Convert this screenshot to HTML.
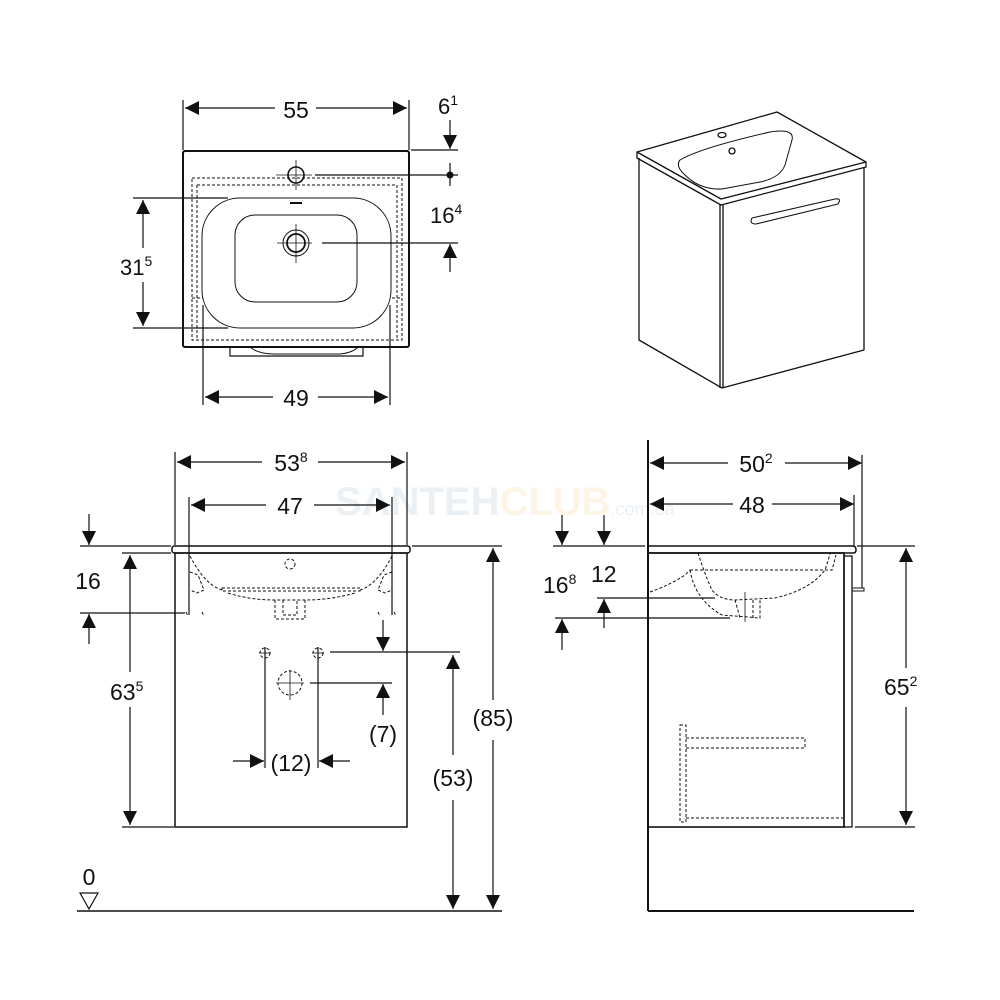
<!DOCTYPE html>
<html><head><meta charset="utf-8"><style>
html,body{margin:0;padding:0;background:#fff;}
svg{display:block}
text{font-family:"Liberation Sans",Arial,sans-serif;fill:#111;}
</style></head><body>
<svg width="1000" height="1000" viewBox="0 0 1000 1000" xmlns="http://www.w3.org/2000/svg">
<defs>
<marker id="a" viewBox="0 0 10 10" refX="10" refY="5" markerWidth="14" markerHeight="14" markerUnits="userSpaceOnUse" orient="auto-start-reverse"><path d="M0,0 L10,5 L0,10 z" fill="#111"/></marker>
</defs>
<text x="335" y="515" font-size="40" style="fill:#eaf0f4" font-weight="bold">SANTEH<tspan style="fill:#fcf5e6">CLUB</tspan><tspan font-size="18" font-weight="normal" style="fill:#eaf0f4">.com.ua</tspan></text>
<g stroke="#111" fill="none" stroke-width="1.2">

<!-- TOP VIEW -->
<rect x="183" y="151" width="226" height="196" rx="2" stroke-width="2"/>
<rect x="192" y="178" width="210" height="162" stroke-dasharray="3,2" stroke-width="1"/>
<line x1="197" y1="185" x2="397" y2="185" stroke-dasharray="3,2" stroke-width="1"/>
<line x1="197" y1="185" x2="197" y2="338" stroke-dasharray="3,2" stroke-width="1"/>
<line x1="397" y1="185" x2="397" y2="338" stroke-dasharray="3,2" stroke-width="1"/>
<line x1="192" y1="298" x2="402" y2="298" stroke-dasharray="3,2" stroke-width="1"/>
<rect x="202" y="198" width="189" height="130" rx="38" fill="#fff" stroke-width="1"/>
<rect x="235" y="215" width="122" height="87" rx="20" stroke-width="1"/>
<circle cx="296" cy="243" r="13" stroke-width="1"/>
<circle cx="296" cy="243" r="9" stroke-width="1.8"/>
<circle cx="296" cy="175" r="8" stroke-width="1.6"/>
<path d="M230,347 L230,356 L363,356 L363,347" stroke-width="1.2"/>
<path d="M250,347 Q258,354 275,354 L340,354 Q352,353 358,347" stroke-width="1"/>
<path d="M290,203 L302,203" stroke-width="2"/>
<line x1="276" y1="175" x2="312" y2="175" stroke-width="0.8"/><line x1="296" y1="160" x2="296" y2="190" stroke-width="0.8"/>
<line x1="277" y1="243" x2="312" y2="243" stroke-width="0.8"/><line x1="296" y1="224" x2="296" y2="263" stroke-width="0.8"/>
<line x1="183" y1="100" x2="183" y2="150"/><line x1="409" y1="100" x2="409" y2="150"/>
<line x1="185" y1="108" x2="275" y2="108" marker-start="url(#a)"/><line x1="316" y1="108" x2="407" y2="108" marker-end="url(#a)"/>
<line x1="411" y1="150" x2="458" y2="150"/>
<line x1="450" y1="120" x2="450" y2="149" marker-end="url(#a)"/>
<line x1="315" y1="175" x2="458" y2="175"/><line x1="450" y1="163" x2="450" y2="186"/>
<line x1="322" y1="243" x2="458" y2="243"/>
<line x1="450" y1="272" x2="450" y2="244" marker-end="url(#a)"/>
<line x1="133" y1="198" x2="228" y2="198"/><line x1="133" y1="328" x2="228" y2="328"/>
<line x1="143" y1="200" x2="143" y2="248" marker-start="url(#a)"/><line x1="143" y1="282" x2="143" y2="326" marker-end="url(#a)"/>
<line x1="203" y1="305" x2="203" y2="405"/><line x1="390" y1="305" x2="390" y2="405"/>
<line x1="205" y1="397" x2="273" y2="397" marker-start="url(#a)"/><line x1="318" y1="397" x2="388" y2="397" marker-end="url(#a)"/>
</g>
<circle cx="450" cy="175" r="3.5" fill="#111"/>
<text x="296" y="118" font-size="23" text-anchor="middle">55</text>
<text x="438" y="114" font-size="22">6<tspan font-size="14" dy="-9">1</tspan></text>
<text x="430" y="223" font-size="22">16<tspan font-size="14" dy="-9">4</tspan></text>
<text x="120" y="275" font-size="22">31<tspan font-size="14" dy="-9">5</tspan></text>
<text x="296" y="406" font-size="23" text-anchor="middle">49</text>

<!-- 3D VIEW -->
<g stroke="#111" fill="none" stroke-width="1.3" stroke-linejoin="round">
<path d="M637,152 L777,112 L866,162 L866,167 L721,205 L637,158 Z"/>
<path d="M637,152 L721,199 L866,162"/>
<path d="M639,158 L639,340 L722,388 L864,350 L864,167"/>
<line x1="720" y1="205" x2="720" y2="388"/><line x1="723" y1="205" x2="723" y2="388"/>
<path d="M680,160 Q700,148 770,132 Q795,128 792,140 L785,165 Q780,178 760,182 L722,189 Q700,190 685,175 Q675,166 680,160 Z" stroke-width="1"/>
<ellipse cx="722" cy="135" rx="4" ry="2.5"/>
<circle cx="732" cy="151" r="3"/>
<path d="M752,218 L835,199 Q842,198 838,204 L756,224 Q749,224 752,218 Z" stroke-width="1.1"/>
</g>

<!-- FRONT VIEW -->
<g stroke="#111" fill="none" stroke-width="1.2">
<rect x="175" y="553" width="232" height="274" stroke-width="1.5"/>
<rect x="172" y="546" width="238" height="7" rx="2.5" stroke-width="1.5"/>
<g stroke-dasharray="3,2" stroke-width="1">
<path d="M190,556 Q205,585 222,590"/><path d="M392,556 Q377,585 360,590"/>
<rect x="222" y="588" width="138" height="3"/>
<path d="M228,593 Q250,600 275,600 L305,600 Q330,600 355,593"/>
<path d="M275,600 L275,619 L305,619 L305,600"/><path d="M283,600 L283,615 L297,615 L297,600"/>
<circle cx="290" cy="564" r="5"/>
<path d="M190,572 L198,575 L204,590 L197,593 L190,590"/><path d="M392,572 L384,575 L378,590 L385,593 L392,590"/>
<path d="M186,612 L188,616 M202,612 L204,616 M378,612 L380,616 M394,612 L396,616"/>
<circle cx="265" cy="653" r="5"/><circle cx="318" cy="653" r="5"/>
<circle cx="290" cy="683" r="12"/>
</g>
<line x1="259" y1="653" x2="271" y2="653" stroke-width="0.8"/><line x1="265" y1="647" x2="265" y2="768"/>
<line x1="312" y1="653" x2="324" y2="653" stroke-width="0.8"/><line x1="318" y1="647" x2="318" y2="768"/>
<line x1="276" y1="683" x2="304" y2="683" stroke-width="0.8"/><line x1="290" y1="670" x2="290" y2="700" stroke-width="0.8"/>
<line x1="175" y1="452" x2="175" y2="545"/><line x1="407" y1="452" x2="407" y2="545"/>
<line x1="177" y1="462" x2="262" y2="462" marker-start="url(#a)"/><line x1="318" y1="462" x2="405" y2="462" marker-end="url(#a)"/>
<line x1="189" y1="497" x2="189" y2="615"/><line x1="392" y1="497" x2="392" y2="615"/>
<line x1="191" y1="505" x2="266" y2="505" marker-start="url(#a)"/><line x1="314" y1="505" x2="390" y2="505" marker-end="url(#a)"/>
<line x1="89" y1="514" x2="89" y2="545" marker-end="url(#a)"/>
<line x1="80" y1="546" x2="171" y2="546"/>
<line x1="80" y1="613" x2="185" y2="613"/>
<line x1="89" y1="644" x2="89" y2="614" marker-end="url(#a)"/>
<line x1="122" y1="553" x2="171" y2="553"/><line x1="122" y1="827" x2="174" y2="827"/>
<line x1="130" y1="555" x2="130" y2="672" marker-start="url(#a)"/><line x1="130" y1="707" x2="130" y2="825" marker-end="url(#a)"/>
<line x1="233" y1="761" x2="264" y2="761" marker-end="url(#a)"/><line x1="350" y1="761" x2="319" y2="761" marker-end="url(#a)"/>
<line x1="383" y1="620" x2="383" y2="651" marker-end="url(#a)"/>
<line x1="330" y1="652" x2="460" y2="652"/>
<line x1="310" y1="683" x2="392" y2="683"/>
<line x1="383" y1="715" x2="383" y2="684" marker-end="url(#a)"/>
<line x1="453" y1="655" x2="453" y2="755" marker-start="url(#a)"/><line x1="453" y1="800" x2="453" y2="909" marker-end="url(#a)"/>
<line x1="412" y1="546" x2="502" y2="546"/>
<line x1="493" y1="548" x2="493" y2="700" marker-start="url(#a)"/><line x1="493" y1="740" x2="493" y2="909" marker-end="url(#a)"/>
<line x1="77" y1="911" x2="502" y2="911" stroke-width="1.6"/>
<path d="M80,893 L98,893 L89,909 Z"/>
</g>
<text x="291" y="471" font-size="23" text-anchor="middle">53<tspan font-size="14" dy="-9">8</tspan></text>
<text x="290" y="514" font-size="23" text-anchor="middle">47</text>
<text x="88" y="589" font-size="23" text-anchor="middle">16</text>
<text x="110" y="700" font-size="23">63<tspan font-size="14" dy="-9">5</tspan></text>
<text x="291" y="771" font-size="23" text-anchor="middle">(12)</text>
<text x="383" y="742" font-size="23" text-anchor="middle">(7)</text>
<text x="453" y="786" font-size="23" text-anchor="middle">(53)</text>
<text x="493" y="726" font-size="23" text-anchor="middle">(85)</text>
<text x="89" y="885" font-size="23" text-anchor="middle">0</text>

<!-- SIDE VIEW -->
<g stroke="#111" fill="none" stroke-width="1.2">
<line x1="648" y1="440" x2="648" y2="911" stroke-width="2"/>
<line x1="648" y1="911" x2="914" y2="911" stroke-width="2"/>
<rect x="648" y="553" width="196" height="274" stroke-width="1.6"/>
<rect x="844" y="556" width="8" height="271" stroke-width="1.3"/>
<path d="M648,546 L853,546 Q856,546 856,550 Q856,553 853,553 L648,553" stroke-width="1.5"/>
<rect x="852" y="588" width="12" height="3" stroke-width="1"/>
<g stroke-dasharray="3,2" stroke-width="1">
<path d="M698,553 Q705,575 712,590 Q720,600 735,600 L775,598 Q810,590 825,570 Q830,555 830,553"/>
<path d="M690,570 L832,570 L836,555"/>
<path d="M650,592 Q670,585 685,575 L690,570"/>
<path d="M690,570 Q695,600 722,615 L760,618 L760,600"/>
<path d="M735,600 L740,618 M753,600 L753,618"/>
<path d="M680,725 L686,725 L686,822 L680,822 Z"/>
<path d="M686,738 L805,738 L805,748 L686,748"/>
<line x1="686" y1="818" x2="843" y2="818"/>
</g>
<line x1="745" y1="592" x2="745" y2="622" stroke-width="0.8"/>
<line x1="650" y1="463" x2="728" y2="463" marker-start="url(#a)"/><line x1="785" y1="463" x2="862" y2="463" marker-end="url(#a)"/>
<line x1="862" y1="455" x2="862" y2="588"/>
<line x1="650" y1="504" x2="733" y2="504" marker-start="url(#a)"/><line x1="772" y1="504" x2="854" y2="504" marker-end="url(#a)"/>
<line x1="854" y1="495" x2="854" y2="546"/>
<line x1="562" y1="515" x2="562" y2="545" marker-end="url(#a)"/>
<line x1="604" y1="515" x2="604" y2="545" marker-end="url(#a)"/>
<line x1="553" y1="546" x2="645" y2="546"/>
<line x1="597" y1="598" x2="715" y2="598"/>
<line x1="604" y1="628" x2="604" y2="599" marker-end="url(#a)"/>
<line x1="555" y1="618" x2="730" y2="618"/>
<line x1="562" y1="650" x2="562" y2="619" marker-end="url(#a)"/>
<line x1="857" y1="546" x2="915" y2="546"/><line x1="855" y1="827" x2="915" y2="827"/>
<line x1="906" y1="548" x2="906" y2="668" marker-start="url(#a)"/><line x1="906" y1="707" x2="906" y2="825" marker-end="url(#a)"/>
</g>
<text x="756" y="472" font-size="23" text-anchor="middle">50<tspan font-size="14" dy="-9">2</tspan></text>
<text x="752" y="513" font-size="23" text-anchor="middle">48</text>
<text x="543" y="593" font-size="23">16<tspan font-size="14" dy="-9">8</tspan></text>
<text x="591" y="582" font-size="23">12</text>
<text x="884" y="695" font-size="23">65<tspan font-size="14" dy="-9">2</tspan></text>
</svg>
</body></html>
